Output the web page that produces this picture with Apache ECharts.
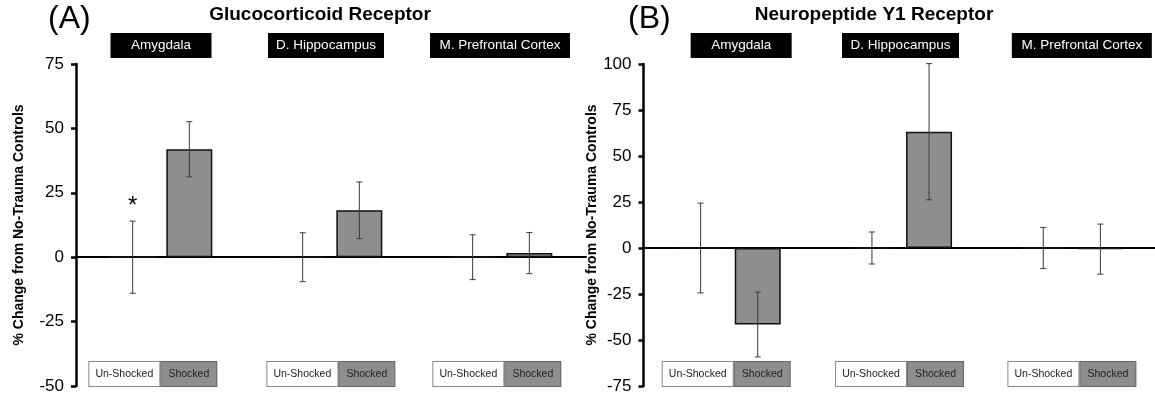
<!DOCTYPE html>
<html>
<head>
<meta charset="utf-8">
<script src="https://cdn.jsdelivr.net/npm/echarts@6/dist/echarts.min.js"></script>
<style>
  html, body { margin: 0; padding: 0; background: #fff; }
  #chart { width: 1155px; height: 398px; }
</style>
</head>
<body>
<div id="chart"></div>
<script>
var regions = ['Amygdala', 'D. Hippocampus', 'M. Prefrontal Cortex'];

// (A) glucocorticoid receptor, % change from no-trauma controls
var grUnshocked = [0, 0, 0];
var grUnshockedErr = [14, 9.5, 8.7];
var grShocked = [41.9, 18.2, 1.6];
var grShockedErr = [10.7, 11, 8];
var grSig = ['*', '', ''];
var grTicks = [-50, -25, 0, 25, 50, 75];

// (B) neuropeptide Y1 receptor
var npyUnshocked = [0, 0, 0];
var npyUnshockedErr = [24.4, 8.7, 11.2];
var npyShocked = [-41.6, 63.2, -0.6];
var npyShockedErr = [17.6, 37, 13.6];
var npySig = ['', '', ''];
var npyTicks = [-75, -50, -25, 0, 25, 50, 75, 100];

var font = 'Arial, "Liberation Sans", Helvetica, sans-serif';
// 3 slots per region: un-shocked, shocked, gap (plus slot 0 at the axis)
var slots = ['0', '1', '2', '3', '4', '5', '6', '7', '8', '9'];

function toSlots(vals, pos) {
  var out = slots.map(function () { return null; });
  vals.forEach(function (v, g) { out[3 * g + pos] = v; });
  return out;
}

function errRenderer(marks) {
  return function (params, api) {
    var x = api.value(0);
    var lo = api.coord([x, api.value(1)]);
    var hi = api.coord([x, api.value(2)]);
    var st = { stroke: '#3a3a3a', lineWidth: 1 };
    var kids = [
      { type: 'line', shape: { x1: lo[0], y1: lo[1], x2: hi[0], y2: hi[1] }, style: st },
      { type: 'line', shape: { x1: lo[0] - 3, y1: lo[1], x2: lo[0] + 3, y2: lo[1] }, style: st },
      { type: 'line', shape: { x1: hi[0] - 3, y1: hi[1], x2: hi[0] + 3, y2: hi[1] }, style: st }
    ];
    var m = marks[params.dataIndex];
    if (m) {
      kids.push({ type: 'text', style: { text: m, x: hi[0], y: hi[1] - 15, align: 'center',
        verticalAlign: 'middle', font: '24px ' + font, fill: '#000' } });
    }
    return { type: 'group', children: kids };
  };
}

var panels = [
  { tag: '(A)', title: 'Glucocorticoid Receptor', u: grUnshocked, uErr: grUnshockedErr,
    s: grShocked, sErr: grShockedErr, sig: grSig, ticks: grTicks,
    left: 76, width: 510, tagX: 48, titleX: 320, nameGap: 50,
    headShift: [0, -5, -1], headW: [101, 116, 140], legShift: [0, 8, 4] },
  { tag: '(B)', title: 'Neuropeptide Y1 Receptor', u: npyUnshocked, uErr: npyUnshockedErr,
    s: npyShocked, sErr: npyShockedErr, sig: npySig, ticks: npyTicks,
    left: 643.5, width: 514, tagX: 628, titleX: 874, nameGap: 39,
    headShift: [12, 0, 10], headW: [101, 117, 140], legShift: [5, 7, 8] }
];

var option = { animation: false, title: [], grid: [], xAxis: [], yAxis: [], series: [] };

panels.forEach(function (p, i) {
  option.title.push({ text: p.tag, left: p.tagX, top: 3, padding: 0,
    textStyle: { fontFamily: font, fontSize: 32, fontWeight: 'normal', color: '#000' } });
  option.title.push({ text: p.title, left: p.titleX, textAlign: 'center', top: 5, padding: 0,
    textStyle: { fontFamily: font, fontSize: 19, fontWeight: 'bold', color: '#000' } });

  option.grid.push({ left: p.left, top: 64, width: p.width, height: 322, outerBoundsMode: 'none', containLabel: false });

  // zero line
  option.xAxis.push({
    gridIndex: i, type: 'category', data: slots, boundaryGap: false,
    axisLine: { onZero: true, lineStyle: { color: '#000', width: 2 } },
    axisTick: { show: false }, axisLabel: { show: false }, splitLine: { show: false }
  });

  // un-shocked / shocked keys inside the plot
  var legRich = {
    u: { width: 70, height: 24, align: 'center', backgroundColor: '#fff', borderColor: '#8a8a8a',
         borderWidth: 1, fontSize: 10.5, color: '#222', fontFamily: font },
    g: { width: 2, height: 24 },
    s: { width: 55, height: 24, align: 'center', backgroundColor: '#8e8e8e', borderColor: '#666',
         borderWidth: 1, fontSize: 10.5, color: '#222', fontFamily: font }
  };
  p.legShift.forEach(function (d, k) {
    legRich['pr' + k] = { width: 73 - 2 * d, height: 24 };
  });
  option.xAxis.push({
    gridIndex: i, type: 'category', data: slots, boundaryGap: false, position: 'bottom',
    axisLine: { show: false, onZero: false }, axisTick: { show: false },
    axisLabel: {
      inside: true, margin: 0, interval: 0, rich: legRich,
      formatter: function (v, idx) {
        if (idx % 3 !== 2) return '';
        return '{u|Un-Shocked}{g|}{s|Shocked}{pr' + ((idx - 2) / 3) + '|}';
      }
    }
  });

  // region headers
  var headRich = {};
  p.headW.forEach(function (w, k) {
    headRich['h' + k] = { width: w, height: 25, align: 'center', backgroundColor: '#000',
      color: '#fff', fontSize: 13.5, fontFamily: font };
    headRich['sp' + k] = { width: Math.abs(2 * p.headShift[k]), height: 25 };
  });
  option.xAxis.push({
    gridIndex: i, type: 'category', data: regions, boundaryGap: true, position: 'top',
    axisLine: { show: false, onZero: false }, axisTick: { show: false },
    axisLabel: {
      margin: 6, interval: 0, rich: headRich,
      formatter: function (v, k) {
        var sh = p.headShift[k];
        var box = '{h' + k + '|' + v + '}';
        if (sh > 0) return '{sp' + k + '|}' + box;
        if (sh < 0) return box + '{sp' + k + '|}';
        return box;
      }
    }
  });

  option.yAxis.push({
    gridIndex: i, type: 'value',
    min: p.ticks[0], max: p.ticks[p.ticks.length - 1], interval: p.ticks[1] - p.ticks[0],
    name: '% Change from No-Trauma Controls', nameLocation: 'middle', nameRotate: 90, nameGap: p.nameGap,
    nameTextStyle: { fontFamily: font, fontSize: 14, fontWeight: 'bold', color: '#000' },
    axisLine: { show: true, lineStyle: { color: '#000', width: 2.5 } },
    axisTick: { show: true, length: 5, lineStyle: { color: '#000', width: 2.5 } },
    axisLabel: { fontFamily: font, fontSize: 17, color: '#000', margin: 12 },
    splitLine: { show: false }
  });

  var xi = 3 * i;
  option.series.push({
    type: 'bar', xAxisIndex: xi, yAxisIndex: i, data: toSlots(p.u, 1),
    barWidth: 46, barGap: '-100%', silent: true,
    itemStyle: { color: '#fff', borderColor: '#111', borderWidth: 1.5 }
  });
  option.series.push({
    type: 'bar', xAxisIndex: xi, yAxisIndex: i, data: toSlots(p.s, 2),
    barWidth: 46, barGap: '-100%', silent: true,
    itemStyle: { color: '#8e8e8e', borderColor: '#111', borderWidth: 1.5 }
  });

  var rows = [], marks = [];
  p.u.forEach(function (v, g) {
    rows.push([3 * g + 1, v - p.uErr[g], v + p.uErr[g]]);
    marks.push(p.sig[g]);
    rows.push([3 * g + 2, p.s[g] - p.sErr[g], p.s[g] + p.sErr[g]]);
    marks.push('');
  });
  option.series.push({
    type: 'custom', xAxisIndex: xi, yAxisIndex: i, z: 5, silent: true,
    renderItem: errRenderer(marks), encode: { x: 0, y: [1, 2] }, data: rows
  });
});

var chart = echarts.init(document.getElementById('chart'));
chart.setOption(option);
</script>
</body>
</html>
